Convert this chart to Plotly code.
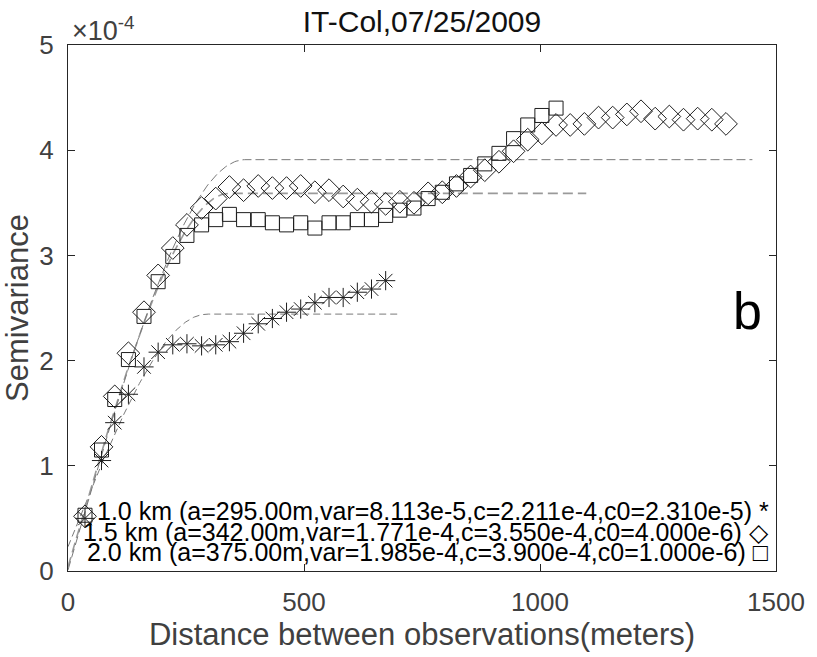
import numpy as np
import plotly.graph_objects as go

# Lag distances (m) of the empirical semivariogram bins
lags = [36, 71, 99, 128, 161, 191, 222, 252, 283, 313, 342, 372, 403, 433, 463,
        493, 523, 553, 583, 613, 643, 673, 703, 733, 763, 793, 823, 853, 883, 913,
        944, 974, 1004, 1034, 1064, 1094, 1124, 1154, 1184, 1214, 1244, 1274, 1304,
        1334, 1364, 1394]

# Empirical semivariance, in units of 1e-4
gamma_1km = [0.50, 1.05, 1.41, 1.68, 1.94, 2.08, 2.15, 2.16, 2.14, 2.15, 2.18,
             2.26, 2.35, 2.40, 2.46, 2.49, 2.55, 2.60, 2.60, 2.65, 2.68, 2.76]
gamma_15km = [0.52, 1.18, 1.66, 2.07, 2.46, 2.81, 3.07, 3.29, 3.45, 3.54,
              3.65, 3.62, 3.66, 3.64, 3.64, 3.66, 3.60, 3.62, 3.56, 3.53,
              3.51, 3.49, 3.51, 3.50, 3.59, 3.60, 3.66, 3.75, 3.81, 3.89,
              3.99, 4.10, 4.16, 4.24, 4.24, 4.25, 4.31, 4.31, 4.34, 4.37,
              4.30, 4.32, 4.29, 4.30, 4.29, 4.25]
gamma_2km = [0.53, 1.15, 1.63, 2.01, 2.42, 2.75, 2.99, 3.19, 3.29, 3.34,
             3.39, 3.34, 3.34, 3.31, 3.29, 3.31, 3.26, 3.31, 3.31, 3.34,
             3.34, 3.38, 3.43, 3.45, 3.54, 3.60, 3.68, 3.76, 3.87, 3.97,
             4.11, 4.24, 4.33, 4.40]

# Fitted spherical model parameters per aggregation scale
scales = ["1.0 km", "1.5 km", "2.0 km"]
range_a = [295.0, 342.0, 375.0]
variance = [8.113e-5, 1.771e-4, 1.985e-4]
partial_sill = [2.211e-4, 3.550e-4, 3.900e-4]
nugget = [2.310e-5, 4.000e-6, 1.000e-6]
model_extent = [702, 1098, 1450]
legend_glyphs = ["*", "\u25C7", "\u25A1"]

x_ticks = [0, 500, 1000, 1500]
y_ticks = [0, 1, 2, 3, 4, 5]
UNIT = 1e-4

FONT = "Liberation Sans, Arial, sans-serif"
INK = "#1e1e1e"
GREY_TXT = "#404040"


def sci(v):
    m, e = f"{v:.3e}".split("e")
    return f"{m}e{int(e)}"


def spherical(h, a, c, c0):
    h = np.asarray(h, dtype=float)
    r = np.clip(h / a, 0, 1)
    return c0 + c * (1.5 * r - 0.5 * r ** 3)


fig = go.Figure()

# fitted model curves
model_styles = [
    dict(color="#7a7a7a", width=1, dash="7px,4px"),
    dict(color="#9a9a9a", width=1.6, dash="10px,5px"),
    dict(color="#7a7a7a", width=1, dash="9px,4px"),
]
for a, c, c0, xmax, st in zip(range_a, partial_sill, nugget, model_extent, model_styles):
    h = np.linspace(0, xmax, 400)
    fig.add_trace(go.Scatter(x=h, y=spherical(h, a, c, c0) / UNIT, mode="lines",
                             line=st, showlegend=False, hoverinfo="skip"))

# empirical semivariogram points
series = [
    (gamma_1km, "asterisk-open", 16),
    (gamma_15km, "diamond-open", 17.5),
    (gamma_2km, "square-open", 14),
]
for name, (vals, sym, size) in zip(scales, series):
    fig.add_trace(go.Scatter(
        x=lags[:len(vals)], y=vals, mode="markers", name=name,
        marker=dict(symbol=sym, size=size, color=INK,
                    line=dict(color=INK, width=1)),
        showlegend=False))

# legend-style text block at the bottom of the axes
legend_y = [0.57, 0.375, 0.18]
for s, a, v, c, c0, g, ly in zip(scales, range_a, variance, partial_sill, nugget,
                                 legend_glyphs, legend_y):
    txt = f"{s} (a={a:.2f}m,var={sci(v)},c={sci(c)},c0={sci(c0)}) {g}"
    fig.add_annotation(x=1490, y=ly, xref="x", yref="y", text=txt,
                       showarrow=False, xanchor="right", yanchor="middle",
                       font=dict(family=FONT, size=25, color="#000000"))

fig.add_annotation(x=1440, y=2.47, xref="x", yref="y", text="b", showarrow=False,
                   xanchor="center", yanchor="middle",
                   font=dict(family=FONT, size=52, color="#000000"))

fig.add_annotation(x=0, y=1, xref="paper", yref="paper", xshift=2, yshift=-3,
                   text="\u00D710<sup>-4</sup>", showarrow=False,
                   xanchor="left", yanchor="bottom",
                   font=dict(family=FONT, size=27, color=GREY_TXT))

axis_common = dict(showline=True, linecolor="#262626", linewidth=1, mirror="ticks",
                   ticks="inside", ticklen=7, tickcolor="#262626", showgrid=False,
                   zeroline=False, tickfont=dict(family=FONT, size=26, color=GREY_TXT))

fig.update_layout(
    width=817, height=657,
    margin=dict(l=68, r=36, t=45, b=86),
    paper_bgcolor="white", plot_bgcolor="white",
    title=dict(text="IT-Col,07/25/2009", x=0.5, xref="paper", xanchor="center",
               y=1 - 21 / 657, yanchor="middle",
               font=dict(family=FONT, size=30, color="#111111")),
    xaxis=dict(range=[0, 1500], tickvals=x_ticks, ticklabelstandoff=8,
               title=dict(text="Distance between observations(meters)", standoff=6,
                          font=dict(family=FONT, size=31, color=GREY_TXT)),
               **axis_common),
    yaxis=dict(range=[0, 5], tickvals=y_ticks, ticklabelstandoff=8,
               title=dict(text="Semivariance", standoff=3,
                          font=dict(family=FONT, size=31, color=GREY_TXT)),
               **axis_common),
)

fig.write_html("out.html")
